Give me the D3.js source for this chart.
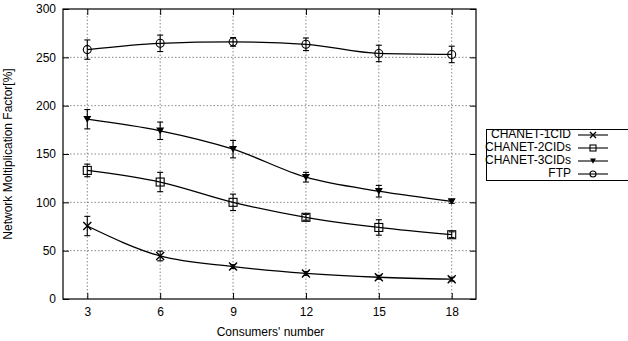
<!DOCTYPE html>
<html>
<head>
<meta charset="utf-8">
<script src="https://cdn.jsdelivr.net/npm/d3@7"></script>
<style>
  body { margin: 0; background: #fff; }
  svg { display: block; font-family: "Liberation Sans", Arial, sans-serif; }
</style>
</head>
<body>
<div id="chart"></div>
<script>
// consumers on x axis
const consumers = [3, 6, 9, 12, 15, 18];
const xTicks = [3, 6, 9, 12, 15, 18];
const yTicks = [0, 50, 100, 150, 200, 250, 300];

const seriesNames = ["CHANET-1CID", "CHANET-2CIDs", "CHANET-3CIDs", "FTP"];
const seriesMarkers = ["cross", "square", "triangle", "circle"];

const cid1 = [75.5, 44.5, 33.5, 26.5, 22.5, 20.5];
const cid1Err = [10, 5, 2, 2, 2, 2];
const cid2 = [133, 121, 100, 84.5, 74, 66.5];
const cid2Err = [6.5, 10, 8.5, 3, 8, 3];
const cid3 = [186, 174, 155, 126, 111.5, 101];
const cid3Err = [10, 9, 9, 5, 6, 2];
const ftp = [258, 264.5, 266, 263.5, 254, 253];
const ftpErr = [10, 8.5, 4.5, 6.5, 8.5, 8.5];

const allValues = [cid1, cid2, cid3, ftp];
const allErrors = [cid1Err, cid2Err, cid3Err, ftpErr];

const W = 628, H = 341;
const margin = { top: 9, right: 152, bottom: 42, left: 63 };
const width = W - margin.left - margin.right,
    height = H - margin.top - margin.bottom;

const svg = d3.select("#chart").append("svg")
    .attr("width", W)
    .attr("height", H);

const g = svg.append("g")
    .attr("transform", `translate(${margin.left}, ${margin.top})`);

const x = d3.scaleLinear().domain([2, 19]).range([0, width]);
const y = d3.scaleLinear().domain([0, 300]).range([height, 0]);

// grid
g.append("g").selectAll("line")
    .data(yTicks.slice(1, -1))
    .enter().append("line")
    .attr("x1", 0).attr("x2", width)
    .attr("y1", d => y(d)).attr("y2", d => y(d))
    .attr("stroke", "#888").attr("stroke-width", 1)
    .attr("stroke-dasharray", "1.5,2");
g.append("g").selectAll("line")
    .data(xTicks)
    .enter().append("line")
    .attr("y1", 0).attr("y2", height)
    .attr("x1", d => x(d)).attr("x2", d => x(d))
    .attr("stroke", "#888").attr("stroke-width", 1)
    .attr("stroke-dasharray", "1.5,2");

// axes, ticks inward and mirrored
const axisStyle = sel => {
    sel.select(".domain").remove();
    sel.selectAll("text").attr("font-size", 12).attr("fill", "#000")
        .attr("font-family", "Liberation Sans, Arial, sans-serif");
    sel.selectAll("line").attr("stroke", "#000");
};
g.append("g")
    .attr("transform", `translate(0, ${height})`)
    .call(d3.axisBottom(x).tickValues(xTicks).tickSizeInner(-6).tickSizeOuter(0).tickPadding(8))
    .call(axisStyle);
g.append("g")
    .call(d3.axisTop(x).tickValues(xTicks).tickSizeInner(-6).tickSizeOuter(0).tickFormat(""))
    .call(axisStyle);
g.append("g")
    .call(d3.axisLeft(y).tickValues(yTicks).tickSizeInner(-6).tickSizeOuter(0).tickPadding(7))
    .call(axisStyle);
g.append("g")
    .attr("transform", `translate(${width}, 0)`)
    .call(d3.axisRight(y).tickValues(yTicks).tickSizeInner(-6).tickSizeOuter(0).tickFormat(""))
    .call(axisStyle);

g.append("rect")
    .attr("width", width).attr("height", height)
    .attr("fill", "none").attr("stroke", "#000").attr("stroke-width", 1.2);

// markers
function drawMarker(sel, type, size) {
    const s = size;
    if (type === "cross") {
        sel.append("path").attr("d", `M${-s},${-s}L${s},${s}M${-s},${s}L${s},${-s}`)
            .attr("stroke", "#000").attr("stroke-width", 1.4).attr("fill", "none");
    } else if (type === "square") {
        sel.append("rect").attr("x", -s).attr("y", -s).attr("width", 2 * s).attr("height", 2 * s)
            .attr("stroke", "#000").attr("stroke-width", 1.1).attr("fill", "none");
    } else if (type === "triangle") {
        sel.append("path").attr("d", `M${-s},${-s * 0.8}L${s},${-s * 0.8}L0,${s * 0.9}Z`)
            .attr("fill", "#000");
    } else {
        sel.append("circle").attr("r", s)
            .attr("stroke", "#000").attr("stroke-width", 1.1).attr("fill", "none");
    }
}

const line = d3.line()
    .x((d, i) => x(consumers[i]))
    .y(d => y(d))
    .curve(d3.curveMonotoneX);

allValues.forEach((vals, k) => {
    const errs = allErrors[k];
    g.append("path")
        .datum(vals)
        .attr("d", line)
        .attr("fill", "none")
        .attr("stroke", "#000")
        .attr("stroke-width", 1.3);

    const eb = g.append("g").selectAll("g")
        .data(vals)
        .enter().append("g");
    eb.append("line")
        .attr("x1", (d, i) => x(consumers[i])).attr("x2", (d, i) => x(consumers[i]))
        .attr("y1", (d, i) => y(d - errs[i])).attr("y2", (d, i) => y(d + errs[i]))
        .attr("stroke", "#000").attr("stroke-width", 1.1);
    eb.append("line")
        .attr("x1", (d, i) => x(consumers[i]) - 3).attr("x2", (d, i) => x(consumers[i]) + 3)
        .attr("y1", (d, i) => y(d + errs[i])).attr("y2", (d, i) => y(d + errs[i]))
        .attr("stroke", "#000").attr("stroke-width", 1.1);
    eb.append("line")
        .attr("x1", (d, i) => x(consumers[i]) - 3).attr("x2", (d, i) => x(consumers[i]) + 3)
        .attr("y1", (d, i) => y(d - errs[i])).attr("y2", (d, i) => y(d - errs[i]))
        .attr("stroke", "#000").attr("stroke-width", 1.1);

    g.append("g").selectAll("g")
        .data(vals)
        .enter().append("g")
        .attr("transform", (d, i) => `translate(${x(consumers[i])}, ${y(d)})`)
        .each(function () { drawMarker(d3.select(this), seriesMarkers[k], 4); });
});

// axis titles
svg.append("text")
    .attr("transform", `translate(9, ${margin.top + height / 2}) rotate(-90)`)
    .attr("text-anchor", "middle")
    .attr("dominant-baseline", "middle")
    .attr("font-size", 12)
    .text("Network Moltiplication Factor[%]");
svg.append("text")
    .attr("x", margin.left + width / 2 + 1)
    .attr("y", 336)
    .attr("text-anchor", "middle")
    .attr("font-size", 12)
    .text("Consumers' number");

// legend
const legend = svg.append("g");
legend.append("rect")
    .attr("x", 486.5).attr("y", 129.5)
    .attr("width", 145).attr("height", 51)
    .attr("fill", "#fff").attr("stroke", "#000").attr("stroke-width", 1);
seriesNames.forEach((name, k) => {
    const yy = 135 + k * 13;
    legend.append("text")
        .attr("x", 571).attr("y", yy)
        .attr("text-anchor", "end")
        .attr("dominant-baseline", "middle")
        .attr("font-size", 12)
        .text(name);
    legend.append("line")
        .attr("x1", 578).attr("x2", 608)
        .attr("y1", yy).attr("y2", yy)
        .attr("stroke", "#000").attr("stroke-width", 1.1);
    const m = legend.append("g").attr("transform", `translate(593, ${yy})`);
    drawMarker(m, seriesMarkers[k], 3);
});
</script>
</body>
</html>
